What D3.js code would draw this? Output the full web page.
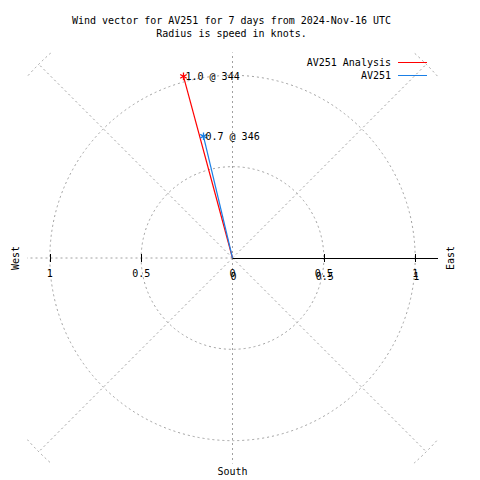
<!DOCTYPE html>
<html><head><meta charset="utf-8">
<script src="https://cdn.jsdelivr.net/npm/d3@7"></script>
<style>
body{margin:0;background:#fff}
text{font-family:"DejaVu Sans Mono",monospace;font-size:10px;fill:#000}
</style></head>
<body><svg id="c" width="480" height="480"></svg>
<script>
// data
const seriesNames = ["AV251 Analysis", "AV251"];
const seriesColors = ["#ff0000", "#1a7fe6"];
const speeds = [1.03, 0.685];          // knots
const directions = [344.9, 346.6];     // degrees from north
const pointLabels = ["1.0 @ 344", "0.7 @ 346"];
const ringValues = [0.5, 1.0, 1.5];
const radialAngles = [0, 45, 90, 135, 180, 225, 270, 315];
const tickValues = [-1, -0.5, 0, 0.5, 1];
const tickLabels = ["1", "0.5", "0", "0.5", "1"];
const titleLines = ["Wind vector for AV251 for 7 days from 2024-Nov-16 UTC", "Radius is speed in knots."];

const svg = d3.select("#c");
const x = d3.scaleLinear().domain([-1.125, 1.125]).range([27, 438]);
const y = d3.scaleLinear().domain([-1.125, 1.125]).range([463.5, 52.5]);
const rpx = v => x(v) - x(0);
const grid = "#a0a0a0";

svg.append("clipPath").attr("id", "clip").append("rect")
  .attr("x", x(-1.125)).attr("y", y(1.125))
  .attr("width", x(1.125) - x(-1.125)).attr("height", y(-1.125) - y(1.125));

const g = svg.append("g").attr("clip-path", "url(#clip)");

// rings
g.selectAll("circle.ring").data(ringValues).join("circle")
  .attr("cx", x(0)).attr("cy", y(0)).attr("r", d => rpx(d))
  .attr("fill", "none").attr("stroke", grid).attr("stroke-width", 1)
  .attr("stroke-dasharray", "2,3");

// radials (skip east, drawn as solid axis)
const rmax = 1.5;
g.selectAll("line.rad").data(radialAngles.filter(a => a !== 90)).join("line")
  .attr("x1", x(0)).attr("y1", y(0))
  .attr("x2", d => x(rmax * Math.sin(d * Math.PI / 180)))
  .attr("y2", d => y(rmax * Math.cos(d * Math.PI / 180)))
  .attr("stroke", grid).attr("stroke-width", 1).attr("stroke-dasharray", "2,3");

// east axis solid
svg.append("line").attr("x1", x(0)).attr("x2", x(1.125))
  .attr("y1", y(0) + 0.5).attr("y2", y(0) + 0.5).attr("stroke", "#000").attr("stroke-width", 1);

// ticks
svg.selectAll("line.tick").data(tickValues.filter(v => v !== 0)).join("line")
  .attr("x1", d => Math.round(x(d)) + 0.5).attr("x2", d => Math.round(x(d)) + 0.5)
  .attr("y1", y(0) - 4).attr("y2", y(0) + 4).attr("stroke", "#000");

// tick labels
svg.selectAll("text.tl").data(tickValues).join("text")
  .attr("x", d => x(d)).attr("y", y(0) + 19).attr("text-anchor", "middle")
  .text((d, i) => tickLabels[i]);
// second overlapping set on the positive half
svg.selectAll("text.tl2").data(tickValues.filter(v => v >= 0)).join("text")
  .attr("x", d => x(d) + 1).attr("y", y(0) + 22).attr("text-anchor", "middle")
  .text(d => tickLabels[tickValues.indexOf(d)]);

// vectors
const px = i => x(speeds[i] * Math.sin(directions[i] * Math.PI / 180));
const py = i => y(speeds[i] * Math.cos(directions[i] * Math.PI / 180));
const star = d3.symbol().type(d3.symbolAsterisk).size(40);
speeds.forEach((s, i) => {
  svg.append("line").attr("x1", x(0)).attr("y1", y(0)).attr("x2", px(i)).attr("y2", py(i))
    .attr("stroke", seriesColors[i]).attr("stroke-width", 1.2);
  svg.append("path").attr("d", star()).attr("transform", `translate(${px(i)},${py(i)})`)
    .attr("stroke", seriesColors[i]).attr("stroke-width", 1.3).attr("fill", "none");
  svg.append("text").attr("x", px(i) + 2).attr("y", py(i) + 3.5).text(pointLabels[i]);
});

// titles
svg.selectAll("text.title").data(titleLines).join("text")
  .attr("x", 231.5).attr("y", (d, i) => 24 + i * 12.5).attr("text-anchor", "middle").text(d => d);

// legend
seriesNames.forEach((n, i) => {
  const ly = 62.5 + i * 13;
  svg.append("text").attr("x", 391).attr("y", ly + 3.5).attr("text-anchor", "end").text(n);
  svg.append("line").attr("x1", 398).attr("x2", 427).attr("y1", ly).attr("y2", ly)
    .attr("stroke", seriesColors[i]).attr("stroke-width", 1);
});

// compass labels
svg.append("text").attr("transform", `translate(19,${y(0)}) rotate(-90)`).attr("text-anchor", "middle").text("West");
svg.append("text").attr("transform", `translate(454,${y(0)}) rotate(-90)`).attr("text-anchor", "middle").text("East");
svg.append("text").attr("x", x(0)).attr("y", 475).attr("text-anchor", "middle").text("South");
</script></body></html>
